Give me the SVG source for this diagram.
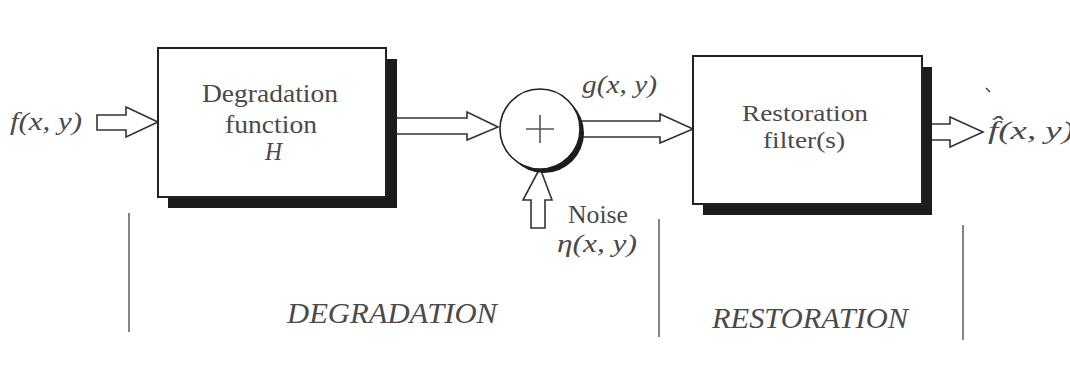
<svg xmlns="http://www.w3.org/2000/svg" width="1070" height="379" viewBox="0 0 1070 379">
<style>
.t{font-family:"Liberation Serif","Times New Roman",serif;fill:#4a4a4a;font-size:26px}
.s{font-size:23px}
.i{font-style:italic}
.big{font-size:30px}
.box{fill:#fff;stroke:#222;stroke-width:2}
.sh{fill:#1c1c1c}
.ar{fill:#fff;stroke:#333;stroke-width:1.6;stroke-linejoin:miter}
.vl{stroke:#666;stroke-width:1.6}
</style>
<rect width="1070" height="379" fill="#fff"/>
<g id="connectors">
<path class="ar" d="M97,115 H126 V107 L158,122 L126,137 V130 H97 Z"/>
<path class="ar" d="M380,118 H467 V112 L498,127 L467,140 V134 H380 Z"/>
<path class="ar" d="M575,121 H660 V114 L693,129 L660,143 V137 H575 Z"/>
<path class="ar" d="M915,124 H950 V117 L983,132 L950,147 V140 H915 Z"/>
<path class="ar" d="M531,228 V200 H523 L540,168 L552,200 H545 V228 Z"/>
</g>
<g id="degradation">
<rect class="sh" x="168" y="59" width="229" height="149"/>
<rect class="box" x="158" y="48" width="228" height="149"/>
<text class="t" x="202" y="102" textLength="136" lengthAdjust="spacingAndGlyphs">Degradation</text>
<text class="t" x="225" y="133" textLength="92" lengthAdjust="spacingAndGlyphs">function</text>
<text class="t i" x="265" y="160" textLength="17" lengthAdjust="spacingAndGlyphs">H</text>
</g>
<g id="adder">
<circle class="sh" cx="544" cy="133" r="40"/>
<circle cx="540" cy="129" r="40" fill="#fff" stroke="#222" stroke-width="1.6"/>
<path d="M526,129 H554 M540,115 V143" stroke="#555" stroke-width="1.6"/>
</g>
<g id="restoration">
<rect class="sh" x="703" y="67" width="229" height="148"/>
<rect class="box" x="693" y="56" width="229" height="148"/>
<text class="t s" x="742" y="121" textLength="126" lengthAdjust="spacingAndGlyphs">Restoration</text>
<text class="t s" x="763" y="148" textLength="82" lengthAdjust="spacingAndGlyphs">filter(s)</text>
</g>
<g id="labels">
<text class="t i" x="10" y="130" textLength="72" lengthAdjust="spacingAndGlyphs">f(x, y)</text>
<text class="t i" x="582" y="93" textLength="75" lengthAdjust="spacingAndGlyphs">g(x, y)</text>
<text class="t" x="568" y="223" textLength="60" lengthAdjust="spacingAndGlyphs">Noise</text>
<text class="t i" x="557" y="252" textLength="80" lengthAdjust="spacingAndGlyphs">η(x, y)</text>
<text class="t i" x="988" y="139" textLength="86" lengthAdjust="spacingAndGlyphs">f̂(x, y)</text>
<path d="M986,88 L990,92" stroke="#444" stroke-width="1.6"/>
</g>
<g id="sections">
<line class="vl" x1="129" y1="213" x2="129" y2="332"/>
<line class="vl" x1="659" y1="219" x2="659" y2="337"/>
<line class="vl" x1="963" y1="225" x2="963" y2="340"/>
<text class="t i big" x="287" y="323" textLength="210" lengthAdjust="spacingAndGlyphs">DEGRADATION</text>
<text class="t i big" x="712" y="328" textLength="196" lengthAdjust="spacingAndGlyphs">RESTORATION</text>
</g>
</svg>
